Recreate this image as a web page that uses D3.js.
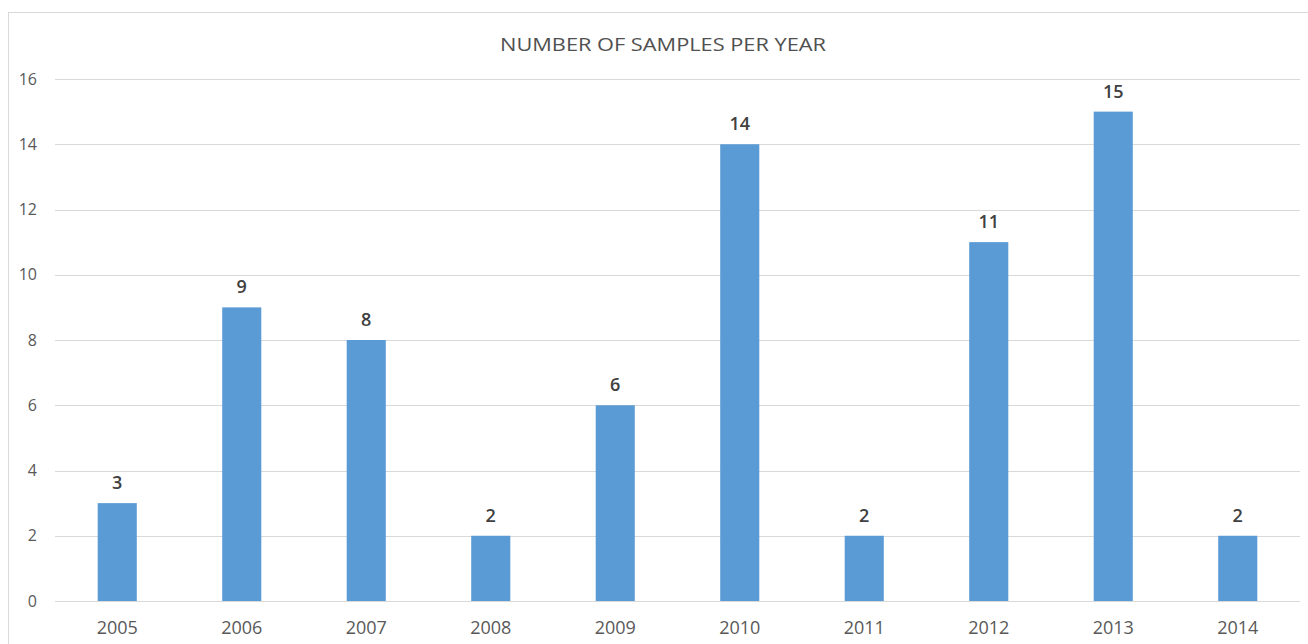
<!DOCTYPE html>
<html>
<head>
<meta charset="utf-8">
<script src="https://cdn.jsdelivr.net/npm/d3@7"></script>
<style>
  body { margin: 0; background: #fff; }
  text { font-family: "Open Sans", "Noto Sans", sans-serif; }
</style>
</head>
<body>
<svg id="chart" width="1308" height="644"></svg>
<script>
const years = ["2005", "2006", "2007", "2008", "2009", "2010", "2011", "2012", "2013", "2014"];
const samples = [3, 9, 8, 2, 6, 14, 2, 11, 15, 2];
const yTicks = [0, 2, 4, 6, 8, 10, 12, 14, 16];
const title = "NUMBER OF SAMPLES PER YEAR";

const svg = d3.select("#chart");

// chart frame (runs off the right and bottom edge)
svg.append("rect")
    .attr("x", 8.5).attr("y", 12.5)
    .attr("width", 1320).attr("height", 660)
    .attr("fill", "none")
    .attr("stroke", "#d9d9d9");

const x = d3.scaleBand()
    .domain(years)
    .range([55, 1300])
    .paddingInner(0.686)
    .paddingOuter(0.343);

const y = d3.scaleLinear()
    .domain([0, 16])
    .range([601, 79]);

// gridlines
svg.append("g")
    .selectAll("line")
    .data(yTicks)
    .enter()
    .append("line")
    .attr("x1", 55).attr("x2", 1300)
    .attr("y1", d => Math.round(y(d)) + 0.5)
    .attr("y2", d => Math.round(y(d)) + 0.5)
    .attr("stroke", "#d9d9d9")
    .attr("stroke-width", 1.2);

// y axis labels
const yAxis = d3.axisLeft(y).tickValues(yTicks).tickSize(0).tickPadding(0);
svg.append("g")
    .attr("transform", "translate(37,0)")
    .call(yAxis)
    .call(g => g.select(".domain").remove())
    .selectAll("text")
    .attr("fill", "#595959")
    .style("font-size", "16px")
    .style("font-family", "'Open Sans', sans-serif");

// x axis labels
const xAxis = d3.axisBottom(x).tickSize(0).tickPadding(0);
svg.append("g")
    .attr("transform", "translate(0,621)")
    .call(xAxis)
    .call(g => g.select(".domain").remove())
    .selectAll("text")
    .attr("fill", "#595959")
    .style("font-size", "18px")
    .style("font-family", "'Open Sans', sans-serif");

// bars
svg.append("g")
    .selectAll("rect")
    .data(samples)
    .enter()
    .append("rect")
    .attr("x", (d, i) => x(years[i]))
    .attr("y", d => y(d))
    .attr("width", x.bandwidth())
    .attr("height", d => y(0) - y(d))
    .attr("fill", "#5b9bd5");

// value labels
svg.append("g")
    .selectAll("text")
    .data(samples)
    .enter()
    .append("text")
    .attr("x", (d, i) => x(years[i]) + x.bandwidth() / 2)
    .attr("y", d => y(d) - 14)
    .attr("text-anchor", "middle")
    .attr("fill", "#404040")
    .style("font-size", "18px")
    .style("font-weight", "600")
    .text(d => d);

// title
svg.append("text")
    .attr("x", 663)
    .attr("y", 51)
    .attr("text-anchor", "middle")
    .attr("fill", "#505050")
    .attr("textLength", 326)
    .attr("lengthAdjust", "spacingAndGlyphs")
    .style("font-size", "19px")
    .text(title);
</script>
</body>
</html>
